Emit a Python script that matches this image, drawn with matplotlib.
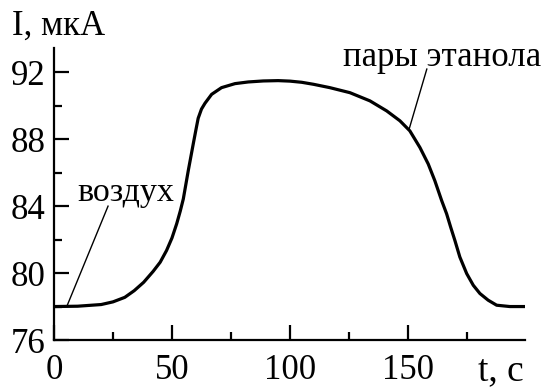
import matplotlib
matplotlib.use("Agg")
import matplotlib.pyplot as plt
from matplotlib.ticker import MultipleLocator

plt.rcParams['font.family'] = ['Liberation Serif', 'DejaVu Serif']

t = [0, 10, 20, 25, 30, 34, 38, 42, 45, 47.7, 50, 52, 53.5, 54.8, 56.9, 59.0,
     60.2, 61.1, 62.5, 64.0, 66.8, 71.0, 76.7, 82.3, 88.7, 95, 100, 105, 110, 116.9,
     125.4, 133.9, 141, 146.6, 150.8, 155.1, 158.6, 161.4, 164.3, 166.4, 168.1,
     169.9, 172, 174.9, 177.7, 180.5, 184, 187.6, 193.2, 199.5]
current = [78.0, 78.02, 78.12, 78.28, 78.55, 78.95, 79.45, 80.1, 80.65, 81.35,
           82.1, 82.95, 83.7, 84.43, 86.12, 87.71, 88.6, 89.25, 89.8, 90.15, 90.68,
           91.08, 91.32, 91.42, 91.48, 91.5, 91.47, 91.4, 91.28, 91.08, 90.78,
           90.29, 89.69, 89.1, 88.5, 87.5, 86.52, 85.52, 84.33, 83.54, 82.75,
           81.95, 80.96, 79.97, 79.27, 78.78, 78.38, 78.08, 78.0, 78.0]

x_ticks = [0, 50, 100, 150]
y_ticks = [76, 80, 84, 88, 92]
x_label = "t, с"
y_label = "I, мкА"
label_air = "воздух"
label_ethanol = "пары этанола"

fig = plt.figure(figsize=(5.45, 3.87), dpi=100)
ax = fig.add_axes([0.0991, 0.1214, 0.8637, 0.7546])
ax.plot(t, current, color='black', lw=2.3, solid_joinstyle='round')
ax.set_xlim(0, 199.5)
ax.set_ylim(76, 93.45)
ax.set_xticks(x_ticks)
ax.set_yticks(y_ticks)
ax.xaxis.set_minor_locator(MultipleLocator(25))
ax.yaxis.set_minor_locator(MultipleLocator(2))
for s in ['top', 'right']:
    ax.spines[s].set_visible(False)
for s in ['left', 'bottom']:
    ax.spines[s].set_linewidth(1.6)
ax.tick_params(which='major', direction='in', length=11, width=1.6, labelsize=25)
ax.tick_params(which='minor', direction='in', length=6, width=1.6)
ax.tick_params(axis='x', which='major', pad=10)
ax.tick_params(axis='y', which='major', pad=6)

# annotations with leader lines
ax.text(30.3, 84.33, label_air, ha='center', va='baseline', fontsize=24.5, clip_on=False)
ax.plot([22.9, 5.4], [84.0, 78.0], color='black', lw=1.0, clip_on=False)
ax.text(164.6, 92.37, label_ethanol, ha='center', va='baseline', fontsize=25, clip_on=False)
ax.plot([158.0, 150.4], [92.19, 88.55], color='black', lw=1.0, clip_on=False)

fig.text(59 / 545, 1 - 35 / 387, y_label, ha='center', va='baseline', fontsize=25)
fig.text(501 / 545, 1 - 380 / 387, x_label, ha='center', va='baseline', fontsize=27)

fig.savefig("out.png", dpi=100)
